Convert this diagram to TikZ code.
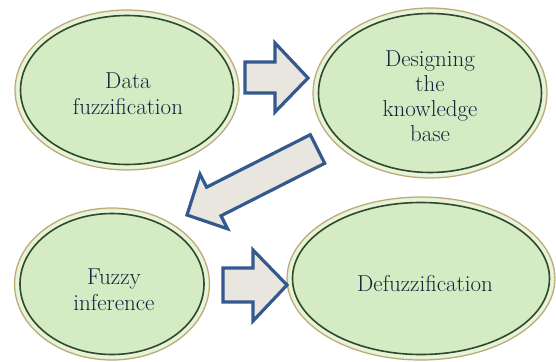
\documentclass[tikz,border=0pt]{standalone}
\usetikzlibrary{shapes.geometric}
\definecolor{ellfill}{HTML}{D4EBC3}
\definecolor{elledge}{HTML}{BFA874}
\definecolor{ellband}{HTML}{E8F3DC}
\definecolor{ellring}{HTML}{2F4A2A}
\definecolor{txtcol}{HTML}{15233D}
\definecolor{arrfill}{HTML}{E9E6E0}
\definecolor{arredge}{HTML}{33598F}
\tikzset{
  stage/.style={ellipse, fill=ellfill, draw=elledge, line width=1.2pt, inner sep=0pt},
  band/.style={draw=ellband, line width=3.5pt},
  ring/.style={draw=ellring, line width=1.6pt},
  label/.style={text=txtcol, align=center, font=\rmfamily\fontsize{23}{26}\selectfont},
  blockarrow/.style={fill=arrfill, draw=arredge, line width=3.2pt, line join=miter}
}
\begin{document}
\begin{tikzpicture}[x=1pt,y=-1pt]
\useasboundingbox (0,0) rectangle (556,361);
% stages
\node[stage, minimum width=224pt, minimum height=160pt] (e1) at (127,90) {};
\node[stage, minimum width=234pt, minimum height=170pt] (e2) at (430,93) {};
\node[stage, minimum width=195pt, minimum height=152pt] (e3) at (112,284) {};
\node[stage, minimum width=268pt, minimum height=163pt] (e4) at (421,278.5) {};
% rings
\draw[band] (e1.center) ellipse [x radius=109pt, y radius=77pt];
\draw[ring] (e1.center) ellipse [x radius=106.5pt, y radius=74.5pt];
\draw[band] (e2.center) ellipse [x radius=114pt, y radius=82pt];
\draw[ring] (e2.center) ellipse [x radius=111.5pt, y radius=79.5pt];
\draw[band] (e3.center) ellipse [x radius=94.5pt, y radius=73pt];
\draw[ring] (e3.center) ellipse [x radius=92pt, y radius=70.5pt];
\draw[band] (e4.center) ellipse [x radius=131pt, y radius=78.5pt];
\draw[ring] (e4.center) ellipse [x radius=128.5pt, y radius=76pt];
% texts
\node[label] (t1) at (128,94) {Data\\fuzzification};
\node[label, font=\rmfamily\fontsize{23}{25}\selectfont] (t2) at (430,96) {Designing\\the\\knowledge\\base};
\node[label] (t3) at (114,290) {Fuzzy\\inference};
\node[label] (t4) at (425,284) {Defuzzification};
% block arrows
\draw[blockarrow] (245,62) -- (275,62) -- (275,43) -- (308,78) -- (275,112) -- (275,93) -- (245,93) -- cycle;
\draw[blockarrow] (310.3,134.7) -- (206.6,187.2) -- (200.0,174.2) -- (187,215) -- (227.6,228.8) -- (221.0,215.8) -- (324.7,163.3) -- cycle;
\draw[blockarrow] (223,268) -- (253,268) -- (253,250) -- (287,285) -- (253,321) -- (253,302) -- (223,302) -- cycle;
\end{tikzpicture}
\end{document}
